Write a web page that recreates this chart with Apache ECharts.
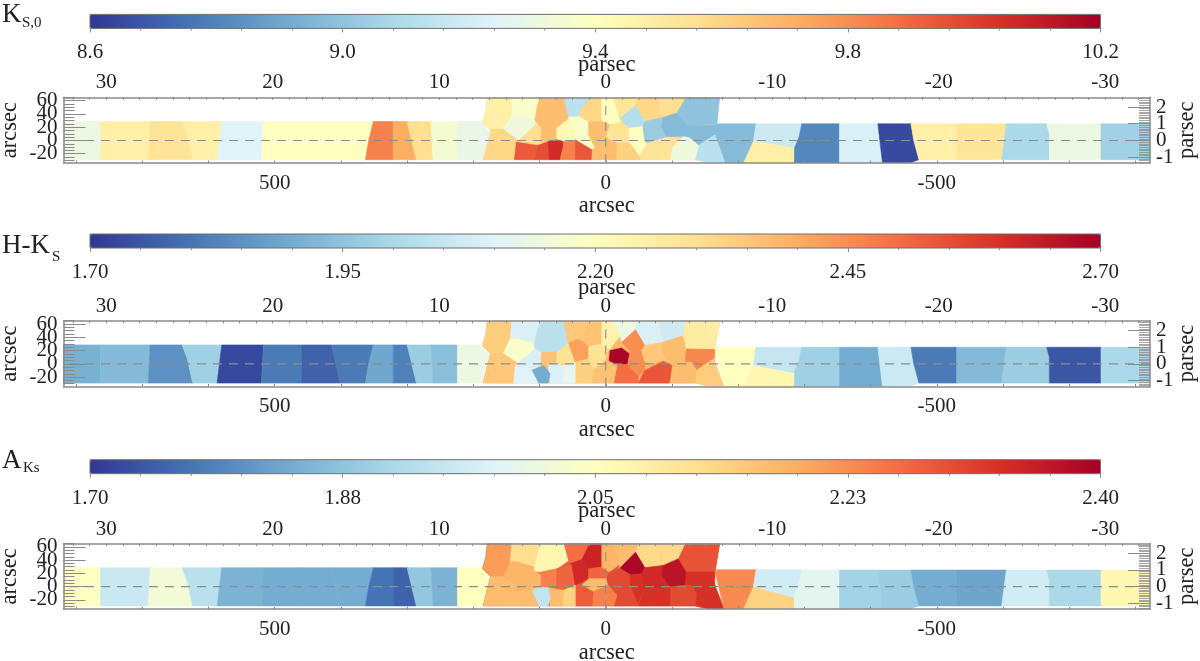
<!DOCTYPE html>
<html>
<head>
<meta charset="utf-8">
<title>KS0, H-KS, AKs maps</title>
<style>
html,body{margin:0;padding:0;background:#fff}
#main{width:1200px;height:661px}
</style>
<script src="https://cdn.jsdelivr.net/npm/echarts@6/dist/echarts.min.js"></script>
</head>
<body>
<div id="main"></div>
<script>
// cell outlines are flat x,y lists in arcsec
const bandLeft = [
  [820,28.5, 763,28.5, 763,-29, 820,-29],
  [763,28.5, 688,28.5, 691,-29, 763,-29],
  [688,28.5, 640,28.5, 632,8, 624,-29, 691,-29],
  [640,28.5, 580,28.5, 587,-29, 624,-29, 632,8],
  [580,28.5, 517,28.5, 520,-29, 587,-29],
  [517,28.5, 459,28.5, 459,-29, 520,-29],
  [459,28.5, 414,28.5, 401,-29, 459,-29],
  [414,28.5, 351,28.5, 358,0, 363,-29, 401,-29],
  [351,28.5, 321,28.5, 321,-29, 363,-29, 358,0],
  [321,28.5, 300,28.5, 286,-29, 321,-29],
  [300,28.5, 264,28.5, 261,-29, 286,-29],
  [264,28.5, 224,28.5, 224,-29, 261,-29],
  [224,28.5, 187,28.5, 174,8.5, 185,-29, 224,-29]
];
const bandRight = [
  [-296,25, -353,25, -353,-34, -285,-34, -285,-11.5, -292,5],
  [-353,25, -411,25, -415,-9, -418,-34, -353,-34],
  [-411,25, -461,25, -465,1, -473,-29, -459,-34, -418,-34, -415,-9],
  [-461,25, -530,25, -530,-29, -473,-29, -465,1],
  [-530,25, -605,25, -602,1, -598,-29, -530,-29],
  [-605,25, -666,25, -670,10, -670,-29, -598,-29, -602,1],
  [-666,25, -748,25, -748,-29, -670,-29, -670,10],
  [-748,25, -822,25, -822,-29, -748,-29]
];
const ksLeft = [9.30,9.48,9.54,9.48,9.24,9.40,9.40,9.40,9.83,9.72,9.56,9.35,9.29];
const ksRight = [8.81,9.22,8.65,9.48,9.53,9.08,9.30,9.05];
const hkLeft = [1.91,1.93,1.85,1.98,1.73,1.81,1.77,1.81,1.89,1.82,1.97,1.94,2.14];
const hkRight = [1.98,1.90,2.06,1.81,1.93,1.97,1.75,2.00];
const akLeft = [2.05,1.95,2.02,1.93,1.85,1.84,1.84,1.84,1.77,1.75,1.88,1.85,2.05];
const akRight = [1.99,1.90,1.89,1.84,1.83,1.96,1.91,2.07];

// [value, outline]
const ksCentre = [
  [9.56,[179,65,-172,65,-165,25,-165,-29,185,-29,179,-5,174,15,186,27.5,181,45]],
  [9.48,[179,65,142,65,142,37.5,155,17,174,17,186,27.5,181,46]],
  [9.37,[142,65,98,65,103,53.5,107,31,142,37.5]],
  [9.32,[142,37.5,107,31,107,22,132,-0.5,155,17]],
  [9.59,[174,17,155,17,132,-0.5,137,-16.5,138,-29,185,-29,181,-16.5,174,8.5]],
  [9.67,[98,65,63,65,56,35,74,18.5,97,18.5,107,31,103,53.5]],
  [9.56,[132,-0.5,107,22,97,18.5,98,-1.5,103,-7.5,135,-2.5]],
  [9.67,[97,18.5,74,18.5,74,1,98,-1.5]],
  [9.43,[74,18.5,56,31,51,28.5,46,8.5,46,-0.5,64,-1.5,74,1]],
  [9.13,[63,65,21,65,36,48.5,41,36,56,35]],
  [9.59,[21,65,6,65,6,33.5,26,27.5,41,36,36,48.5]],
  [9.37,[56,35,41,36,26,27.5,26,8.5,16,-11.5,21,-14,46,1,46,8.5,51,28.5,56,31]],
  [9.67,[26,27.5,6,29.5,-6.5,24.5,-0.5,3.5,21,3.5,26,8.5]],
  [9.40,[6,65,-11.6,65,-16.6,48.5,-21.6,26,-6.5,24.5,6,29.5]],
  [9.53,[-11.6,65,-49,65,-45,52.5,-21.6,33.5,-16.6,48.5]],
  [9.59,[-49,65,-80,65,-82,43.5,-87,33.5,-59,28.5,-45,52.5]],
  [9.56,[-80,65,-121,65,-115,53.5,-107,41,-87,35,-82,43.5]],
  [9.11,[-45,52.5,-59,28.5,-56,21,-35,18.5,-21.6,33.5]],
  [9.54,[-6.5,24.5,-21.6,26,-35,18.5,-36,-4,-16.6,-4,-0.5,3.5]],
  [9.40,[-35,18.5,-56,21,-59,-1.5,-64,-4,-51,-24,-36,-4]],
  [9.03,[-59,28.5,-87,35,-84,21,-92,6,-62,-4,-59,-1.5,-56,21]],
  [8.97,[-87,35,-107,41,-115,41,-125,21,-117,6,-92,6,-84,21]],
  [9.00,[-121,65,-172,65,-168,25,-125,21,-107,41,-115,53.5]],
  [8.97,[-125,21,-168,23.5,-165,8.5,-140,-7.5,-127,3.5,-117,6]],
  [8.97,[-168,25,-227,25,-223,-9,-208,-34,-180,-34,-175,-21,-165,8.5]],
  [9.13,[-140,-7.5,-165,8.5,-180,-34,-155,-34,-135,-29]],
  [9.32,[-97,-29,-100,-11.5,-117,6,-127,3.5,-140,-7.5,-135,-29]],
  [9.54,[-51,-24,-64,-4,-97,3.5,-100,-11.5,-97,-29,-51,-29]],
  [9.61,[-16.6,-4,-36,-4,-51,-24,-51,-29,-15.6,-29]],
  [9.67,[26,8.5,-0.5,3.5,-16.6,-4,-15.6,-29,22,-29,21,-14,16,-11.5]],
  [9.93,[135,-2.5,103,-7.5,107,-29,138,-29]],
  [9.96,[103,-7.5,87,-1.5,74,-11.5,85,-29,107,-29]],
  [10.06,[87,-1.5,74,1,64,-1.5,64,-9,69,-29,85,-29]],
  [9.83,[64,-1.5,46,-0.5,46,-29,69,-29,64,-9]],
  [9.94,[46,1,21,-14,22,-29,46,-29]],
  [9.18,[-227,25,-296,25,-292,5,-286,-11.5,-223,-1.5]],
  [9.48,[-223,-1.5,-286,-11.5,-285,-34,-208,-34]]
];
const hkCentre = [
  [2.38,[179,65,-172,65,-165,25,-165,-29,185,-29,179,-5,174,15,186,27.5,181,45]],
  [2.34,[179,65,142,65,144.5,37.5,156,16,174,15,186,27.5,181,45]],
  [2.09,[142,65,98,65,103,50,108,31,137,38.5,144.5,37.5]],
  [2.18,[137,38.5,108,31,107,22.5,133,1,155,16,144.5,37.5]],
  [2.03,[98,65,63,65,57,31.5,74,17.5,97,17.5,107,22.5,108,31,103,50]],
  [2.35,[174,15,156,16,133,1,139,-29,185,-29,179,-5]],
  [2.09,[133,1,107,22.5,97,17.5,98,-2.5,112,-10,137,-4]],
  [2.36,[97,17.5,74,17.5,74,0,87,-1,98,-2.5]],
  [2.29,[74,17.5,56,31.5,46,2.5,69,0,74,0]],
  [2.35,[63,65,24,65,36,37.5,56,31.5]],
  [2.36,[24,65,6,65,6,30,26,26,41,37.5,36,37.5]],
  [2.42,[56,31.5,41,37.5,26,26,26,7.5,46,2.5]],
  [2.29,[26,26,6,30,-4,22.5,1,5,19,-9,26,7.5]],
  [2.24,[6,65,-11.6,65,-21.6,42.5,-5.5,21,6,30]],
  [2.14,[-11.6,65,-49,65,-45,51.5,-24,32.5,-21.6,42.5]],
  [2.09,[-49,65,-80,65,-87,32.5,-59,27.5,-45,51.5]],
  [2.07,[-80,65,-121,65,-117,42.5,-87,32.5]],
  [2.45,[-45,51.5,-59,27.5,-54,20,-37,19,-24,32.5]],
  [2.69,[-6.5,20,-24,24,-36,15,-33,-1,-17,-1,-5,5]],
  [2.45,[-37,19,-54,20,-59,2.5,-59,-10,-49,-19,-36,-2.5,-33,-1,-36,15]],
  [2.35,[-59,27.5,-87,32.5,-85,17.5,-92,5,-72,1,-59,2.5,-54,20]],
  [2.37,[-87,32.5,-117,42.5,-125,20,-120,2.5,-97,0,-92,5,-85,17.5]],
  [2.26,[-121,65,-172,65,-165,22.5,-122,22.5,-117,42.5]],
  [2.46,[-122,22.5,-165,21.5,-163,7.5,-137,-10,-130,2.5,-120,2.5]],
  [2.34,[-137,-10,-163,7.5,-179,-34,-155,-34,-135,-29]],
  [2.37,[-97,0,-120,2.5,-130,2.5,-137,-10,-135,-29,-97,-29]],
  [2.54,[-49,-29,-59,-10,-87,4,-100,-2.5,-96,-29]],
  [2.50,[-17,-1,-33,-1,-49,-19,-49,-29,-12,-29]],
  [2.36,[1,0,-17,-1,-12,-29,21,-29,19,-9]],
  [2.33,[46,2.5,26,7.5,19,-9,21,-29,46,-29]],
  [2.12,[66,-2.5,46,2.5,46,-29,66,-29]],
  [2.09,[87,-1,69,0,64,-5,66,-29,84,-29]],
  [1.90,[112,-10,94,-2.5,84,-15,87,-29,102,-29,110,-14]],
  [2.10,[137,-4,112,-10,102,-29,139,-29]],
  [2.20,[-168,25,-227,25,-223,-2.5,-208,-34,-179,-34,-165,22]],
  [2.05,[-227,25,-296,25,-292,5,-286,-15,-223,-2.5]],
  [2.23,[-223,-2.5,-286,-15,-285,-34,-208,-34]]
];
const akCentre = [
  [2.28,[179,65,-172,65,-165,25,-165,-29,185,-29,179,-5,174,15,186,27.5,181,45]],
  [2.21,[179,65,142,65,144.5,37,156,15.5,174,15.5,186,28,181,44.5]],
  [2.12,[142,65,98,65,103,49.5,108,29.5,137,38,144.5,37]],
  [2.18,[137,38,108,29.5,107,23,133,2,155,15.5,144.5,37]],
  [2.07,[98,65,63,65,56,39.5,74,27,97,22,107,23,108,29.5,103,49.5]],
  [2.17,[174,15.5,156,15.5,133,2,139,-29,185,-29,179,-5.5]],
  [2.18,[133,2,107,23,97,18,98,-0.5,112,-5.5,137,-4]],
  [2.24,[97,22,74,27,74,-0.5,98,-0.5]],
  [2.27,[74,27,51,33,46,2,64,-5.5,74,-0.5]],
  [2.26,[63,65,24,65,36,41,54,34.5,56,39.5]],
  [2.35,[24,65,6,65,6,29.5,26,27,36,41]],
  [2.34,[54,34.5,36,41,26,27,26,12,46,2,51,33]],
  [2.27,[26,27,6,29.5,-4,24.5,-1.5,12,26,12]],
  [2.17,[26,12,-1.5,12,-4,2,19,-8,36,2]],
  [2.18,[6,65,-11.6,65,-21.6,34.5,-5.5,22,6,29.5]],
  [2.17,[-11.6,65,-49,65,-45,51,-21.6,27,-16.6,47]],
  [2.13,[-49,65,-80,65,-87,32,-59,28.5,-45,51]],
  [2.13,[-80,65,-121,65,-110,42,-87,32]],
  [2.39,[-45,52,-59,28.5,-54,19.5,-37,18,-21.6,28]],
  [2.30,[-5.5,22,-21.6,27,-37,18,-37,2,-17,-13,-4,2,-1.5,12]],
  [2.33,[-37,18,-54,19.5,-59,-3,-47,-28,-37,2]],
  [2.34,[-59,28.5,-87,32,-85,17,-97,-0.5,-59,-3,-54,19.5]],
  [2.37,[-87,32,-110,42,-125,24.5,-120,2,-97,-0.5,-85,17]],
  [2.29,[-121,65,-172,65,-165,22,-122,22,-110,42]],
  [2.33,[-122,22,-165,22,-163,7,-137,-10.5,-130,2,-120,2]],
  [2.33,[-137,-10.5,-163,7,-179,-34,-155,-34,-135,-29]],
  [2.30,[-97,-0.5,-120,2,-130,2,-137,-10.5,-135,-29,-97,-29]],
  [2.33,[-49,-29,-59,-3,-97,-0.5,-97,-29]],
  [2.30,[-17,-13,-37,2,-49,-29,-12,-29]],
  [2.24,[19,-8,-4,2,-17,-13,-12,-29,21,-29]],
  [2.28,[46,2,36,2,19,-8,21,-29,46,-29]],
  [2.14,[64,-5.5,46,2,46,-29,66,-29]],
  [2.17,[87,-1.5,64,-5.5,66,-29,84,-29]],
  [1.94,[112,-5.5,98,-0.5,87,-1.5,84,-18,87,-29,102,-29]],
  [2.17,[137,-4,112,-5.5,102,-29,139,-29]],
  [2.23,[-168,25.5,-227,25.5,-223,-0.5,-208,-34,-179,-34,-165,22]],
  [1.96,[-227,25.5,-296,25.5,-292,5,-286,-18,-223,-0.5]],
  [2.14,[-223,-0.5,-286,-18,-285,-34,-208,-34]]
];

const ksBarTicks = [8.6,9.0,9.4,9.8,10.2];
const ksBarLabels = ['8.6','9.0','9.4','9.8','10.2'];
const hkBarTicks = [1.70,1.95,2.20,2.45,2.70];
const hkBarLabels = ['1.70','1.95','2.20','2.45','2.70'];
const akBarTicks = [1.70,1.875,2.05,2.225,2.40];
const akBarLabels = ['1.70','1.88','2.05','2.23','2.40'];

const arcsecLabels = [500,0,-500];
const parsecTopLabels = [30,20,10,0,-10,-20,-30];
const arcsecLeftLabels = [-20,0,20,40,60];
const parsecRightLabels = [-1,0,1,2];

// axis limits
const xMin = -822, xMax = 819;
const yMin = -34, yMax = 65;
const arcsecPerParsec = 25.15;

const palette = ['#313695','#4575b4','#74add1','#abd9e9','#e0f3f8','#ffffbf','#fee090','#fdae61','#f46d43','#d73027','#a50026'];
const fontName = '"Liberation Serif", serif';
const inkColor = '#222';
const tickColor = '#8a8a8a';

function steps(from, to, step) {
  const out = [];
  const n = Math.round((to - from) / step);
  for (let i = 0; i <= n; i++) out.push(+(from + i * step).toFixed(4));
  return out;
}
function band(shapes, values) {
  return shapes.map((s, i) => [values[i], s]);
}

const panels = [
  {mapTop: 97.3, barTop: 14.4, cells: [...band(bandLeft, ksLeft), ...ksCentre, ...band(bandRight, ksRight)],
   ticks: ksBarTicks, labels: ksBarLabels},
  {mapTop: 320.7, barTop: 234, cells: [...band(bandLeft, hkLeft), ...hkCentre, ...band(bandRight, hkRight)],
   ticks: hkBarTicks, labels: hkBarLabels},
  {mapTop: 543.5, barTop: 459.7, cells: [...band(bandLeft, akLeft), ...akCentre, ...band(bandRight, akRight)],
   ticks: akBarTicks, labels: akBarLabels}
];

const grids = [], xAxes = [], yAxes = [], series = [], visualMaps = [];

function valueAxis(extra) {
  return Object.assign({
    type: 'value', z: 6, silent: true, splitLine: {show: false},
    axisLine: {show: false, onZero: false},
    axisTick: {show: false}, axisLabel: {show: false},
    nameMoveOverlap: false
  }, extra);
}
function labelStyle(extra) {
  return Object.assign({
    show: true, color: inkColor, fontFamily: fontName, fontSize: 21,
    showMinLabel: true, showMaxLabel: true, hideOverlap: false
  }, extra);
}
function nameStyle() {
  return {color: inkColor, fontFamily: fontName, fontSize: 22.5};
}
function cellRenderer(cells) {
  return function (params, api) {
    const outline = cells[params.dataIndex][1];
    const points = [];
    for (let i = 0; i < outline.length; i += 2) {
      points.push(api.coord([outline[i], outline[i + 1]]));
    }
    const color = api.visual('color');
    return {type: 'polygon', shape: {points}, style: {fill: color, stroke: color, lineWidth: 0.6}};
  };
}

panels.forEach(function (p) {
  // map grid
  const g = grids.length;
  grids.push({left: 63.5, width: 1086.5, top: p.mapTop, height: 65.7, show: false, outerBoundsMode: 'none'});
  const xBottom = xAxes.length;
  xAxes.push(valueAxis({
    gridIndex: g, position: 'bottom', min: xMin, max: xMax, inverse: true,
    axisLine: {show: true, onZero: false, lineStyle: {color: tickColor, width: 1.5}},
    axisTick: {show: true, inside: true, length: 2.5, lineStyle: {color: tickColor}, customValues: steps(-800, 800, 100)},
    axisLabel: labelStyle({margin: 10, customValues: arcsecLabels}),
    name: 'arcsec', nameLocation: 'middle', nameGap: 32, nameTextStyle: nameStyle()
  }));
  xAxes.push(valueAxis({
    gridIndex: g, position: 'top', min: xMin / arcsecPerParsec, max: xMax / arcsecPerParsec, inverse: true,
    axisLine: {show: true, onZero: false, lineStyle: {color: tickColor, width: 1.5}},
    axisTick: {show: true, inside: true, length: 2.5, lineStyle: {color: tickColor}, customValues: steps(-32, 32, 1)},
    axisLabel: labelStyle({margin: 4, customValues: parsecTopLabels}),
    name: 'parsec', nameLocation: 'middle', nameGap: 21, nameTextStyle: nameStyle()
  }));
  // labels overlap in the original, so they sit on separate axes
  const yLeft = yAxes.length;
  yAxes.push(valueAxis({
    gridIndex: g, position: 'left', min: yMin, max: yMax,
    axisLine: {show: true, onZero: false, lineStyle: {color: tickColor, width: 1.5}},
    axisTick: {show: true, inside: true, length: 22, lineStyle: {color: tickColor}, customValues: arcsecLeftLabels},
    axisLabel: labelStyle({margin: 6, padding: [2, 0, 0, 0], customValues: [-20, 20]}),
    name: 'arcsec', nameLocation: 'middle', nameGap: 42, nameTextStyle: nameStyle()
  }));
  yAxes.push(valueAxis({
    gridIndex: g, position: 'left', min: yMin, max: yMax,
    axisTick: {show: true, inside: true, length: 11, lineStyle: {color: tickColor}, customValues: steps(-30, 65, 5)},
    axisLabel: labelStyle({margin: 6, padding: [6, 0, 0, 0], customValues: [0, 40]})
  }));
  yAxes.push(valueAxis({
    gridIndex: g, position: 'left', min: yMin, max: yMax,
    axisLabel: labelStyle({margin: 6, padding: [10, 0, 0, 0], customValues: [60]})
  }));
  yAxes.push(valueAxis({
    gridIndex: g, position: 'right', min: yMin / arcsecPerParsec, max: yMax / arcsecPerParsec,
    axisLine: {show: true, onZero: false, lineStyle: {color: tickColor, width: 1.5}},
    axisTick: {show: true, inside: true, length: 22, lineStyle: {color: tickColor}, customValues: parsecRightLabels},
    axisLabel: labelStyle({margin: 6, customValues: [0, 2]}),
    name: 'parsec', nameLocation: 'middle', nameGap: 26, nameTextStyle: nameStyle()
  }));
  yAxes.push(valueAxis({
    gridIndex: g, position: 'right', min: yMin / arcsecPerParsec, max: yMax / arcsecPerParsec,
    axisTick: {show: true, inside: true, length: 11, lineStyle: {color: tickColor, opacity: 0.75}, customValues: steps(-1.3, 2.5, 0.1)},
    axisLabel: labelStyle({margin: 6, customValues: [-1, 1]})
  }));

  const mapSeries = series.length;
  series.push({
    type: 'custom', coordinateSystem: 'cartesian2d', xAxisIndex: xBottom, yAxisIndex: yLeft, z: 2,
    silent: true, animation: false, clip: true, encode: {x: 0, y: 1},
    renderItem: cellRenderer(p.cells),
    data: p.cells.map(c => [c[1][0], c[1][1], c[0]])
  });
  [[[xMin, 0], [xMax, 0]], [[0, yMin], [0, yMax]]].forEach(function (zeroLine) {
    series.push({
      type: 'line', xAxisIndex: xBottom, yAxisIndex: yLeft, z: 3, silent: true, animation: false,
      symbol: 'none', data: zeroLine, lineStyle: {color: '#8c8c8c', width: 1.1, type: [9, 7]}
    });
  });

  // colour bar: the gradient is the visualMap, the scale below it an axis
  const vMin = p.ticks[0], vMax = p.ticks[p.ticks.length - 1];
  const barGrid = grids.length;
  grids.push({left: 90, width: 1010.5, top: p.barTop, height: 14, show: true, z: 6, outerBoundsMode: 'none',
    backgroundColor: 'transparent', borderColor: '#6e6e6e', borderWidth: 1});
  xAxes.push(valueAxis({
    gridIndex: barGrid, position: 'bottom', min: vMin, max: vMax,
    axisTick: {show: true, length: 4, lineStyle: {color: tickColor}, customValues: p.ticks},
    axisLabel: labelStyle({margin: 14, customValues: p.ticks, formatter: v => p.labels[p.ticks.indexOf(v)]})
  }));
  xAxes.push(valueAxis({
    gridIndex: barGrid, position: 'bottom', min: vMin, max: vMax,
    axisTick: {show: true, length: 2, lineStyle: {color: tickColor}, customValues: steps(vMin, vMax, (vMax - vMin) / 20)}
  }));
  yAxes.push(valueAxis({gridIndex: barGrid, min: 0, max: 1}));

  visualMaps.push({
    type: 'continuous', seriesIndex: mapSeries, dimension: 2, min: vMin, max: vMax,
    orient: 'horizontal', left: 90, top: p.barTop, padding: 0,
    itemWidth: 14, itemHeight: 1010.5, calculable: false, realtime: false,
    hoverLink: false, text: null, showLabel: false, inRange: {color: palette}
  });
});

const sym = (text, left, top, size) => ({
  text, left, top, padding: 0, textStyle: {color: inkColor, fontFamily: fontName, fontSize: size, fontWeight: 'normal'}
});

const chart = echarts.init(document.getElementById('main'), null, {renderer: 'canvas'});
chart.setOption({
  backgroundColor: '#fff',
  animation: false,
  title: [
    sym('K', 2, 1, 27), sym('S,0', 22, 16, 15),
    sym('H-K', 2, 232, 27), sym('S', 52, 250, 15),
    sym('A', 2, 447, 27), sym('Ks', 23, 461, 15)
  ],
  grid: grids,
  xAxis: xAxes,
  yAxis: yAxes,
  visualMap: visualMaps,
  series: series
});
</script>
</body>
</html>
